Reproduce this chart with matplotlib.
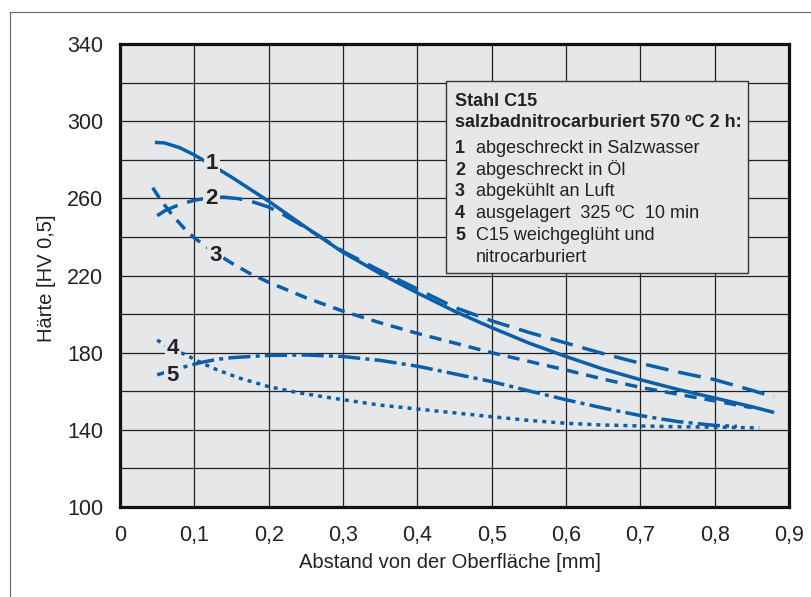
import matplotlib.pyplot as plt
from matplotlib.patches import Rectangle
from matplotlib.lines import Line2D

plt.rcParams['font.family'] = ['Liberation Sans Narrow', 'Liberation Sans', 'DejaVu Sans']

x1 = [0.047, 0.06, 0.08, 0.1, 0.12, 0.15, 0.2, 0.25, 0.3, 0.35, 0.4, 0.45, 0.5, 0.55, 0.6, 0.65, 0.7, 0.75, 0.8, 0.85, 0.88]
hv1 = [289, 288.7, 286.3, 282.5, 278, 271, 258.5, 245, 232, 221, 211, 201.5, 193, 185, 178, 171.5, 166, 161, 156.5, 152, 149]

x2 = [0.05, 0.06, 0.08, 0.1, 0.12, 0.14, 0.16, 0.18, 0.2, 0.22, 0.24, 0.27, 0.3, 0.35, 0.4, 0.45, 0.5, 0.55, 0.6, 0.65, 0.7, 0.75, 0.8, 0.85, 0.88]
hv2 = [251, 253.5, 256.8, 259, 260.3, 260.6, 259.8, 258, 255.5, 251.5, 247, 240, 232.5, 222.5, 213, 203.5, 196.5, 190.5, 185, 179.5, 174.5, 170, 166, 160.5, 157]

x3 = [0.044, 0.055, 0.07, 0.085, 0.1, 0.125, 0.15, 0.175, 0.2, 0.25, 0.3, 0.35, 0.4, 0.45, 0.5, 0.55, 0.6, 0.65, 0.7, 0.75, 0.8, 0.85]
hv3 = [265.5, 259, 251.5, 245, 239.5, 232.5, 226.5, 221, 216.5, 208.5, 201.5, 195.5, 190, 185, 180, 175.5, 171, 166.3, 162, 158.5, 155, 151.5]

x4 = [0.05, 0.07, 0.09, 0.11, 0.13, 0.16, 0.2, 0.24, 0.3, 0.35, 0.4, 0.45, 0.5, 0.55, 0.6, 0.65, 0.7, 0.75, 0.8, 0.86]
hv4 = [186.5, 182, 178.6, 174.6, 171.2, 166.9, 162.4, 159.2, 155.6, 152.8, 150.8, 148.8, 146.8, 144.9, 143.4, 142.5, 142, 141.6, 141.4, 141]

x5 = [0.05, 0.07, 0.09, 0.11, 0.13, 0.15, 0.2, 0.25, 0.3, 0.35, 0.4, 0.45, 0.5, 0.55, 0.6, 0.65, 0.7, 0.75, 0.8, 0.83]
hv5 = [168.5, 170.8, 173, 175, 176.5, 177.4, 178.6, 178.8, 178, 176, 173, 169, 165, 160.2, 155.6, 151.3, 147.4, 144.3, 142.3, 141.8]

curves = [(x1, hv1, '-'),
          (x2, hv2, (0, (6.6, 2.9))),
          (x3, hv3, (0, (3.5, 2.3))),
          (x4, hv4, (0, (1.15, 1.45))),
          (x5, hv5, (0, (6.4, 1.5, 1.15, 1.5)))]

labels = ['1', '2', '3', '4', '5']
label_pos = [(0.124, 278.2), (0.123, 259.8), (0.128, 230.2), (0.071, 182.2), (0.07, 168)]

legend_title = ['Stahl C15', 'salzbadnitrocarburiert 570 ºC 2 h:']
legend_items = ['abgeschreckt in Salzwasser',
                'abgeschreckt in Öl',
                'abgekühlt an Luft',
                'ausgelagert  325 ºC  10 min',
                'C15 weichgeglüht und\nnitrocarburiert']

blue = '#0b5ea8'
bg = '#e6e7e9'
W, H = 812, 597


def fx(px):
    return px / W


def fy(py):
    return 1 - py / H


fig = plt.figure(figsize=(W / 100, H / 100), dpi=100)
ax = fig.add_axes([fx(120), fy(507), (789 - 120) / W, (507 - 44) / H])
ax.set_facecolor(bg)
ax.set_xlim(0, 0.9)
ax.set_ylim(100, 340)

ax.set_xticks([i / 10 for i in range(10)])
ax.set_xticklabels(['0'] + ['0,%d' % i for i in range(1, 10)])
ax.set_yticks(range(100, 341, 40))
ax.set_yticks(range(120, 340, 40), minor=True)
ax.tick_params(which='both', length=0, labelsize=15.5, colors='#222222')
ax.tick_params(axis='x', pad=13)
ax.tick_params(axis='y', pad=12)
ax.grid(True, which='both', color='#222222', linewidth=0.9)
ax.set_axisbelow(True)
for s in ax.spines.values():
    s.set_linewidth(2.3)
    s.set_color('#111111')

for xs, ys, ls in curves:
    ax.plot(xs, ys, color=blue, linewidth=2.5, linestyle=ls,
            solid_capstyle='butt', dash_capstyle='butt', zorder=3)

for lab, (lx, ly) in zip(labels, label_pos):
    ax.text(lx, ly, lab, fontsize=16, fontweight='bold', color='#222222',
            ha='center', va='center', zorder=4,
            bbox=dict(facecolor=bg, edgecolor='none', pad=1.5))

# Legendenkasten
ax.add_patch(Rectangle((fx(446), fy(273)), (748 - 446) / W, (273 - 81) / H,
                       transform=fig.transFigure, facecolor=bg,
                       edgecolor='#333333', linewidth=1.0, zorder=5))
fig.text(fx(455), fy(106), legend_title[0], fontsize=13, fontweight='bold',
         color='#222222', va='baseline', zorder=6)
fig.text(fx(455), fy(127), legend_title[1], fontsize=13, fontweight='bold',
         color='#222222', va='baseline', zorder=6)
for i, item in enumerate(legend_items):
    yb = 153 + i * 21.7
    fig.text(fx(455), fy(yb), labels[i], fontsize=13, fontweight='bold',
             color='#222222', va='baseline', zorder=6)
    fig.text(fx(476), fy(yb), item.split('\n')[0], fontsize=13,
             color='#222222', va='baseline', zorder=6)
    if '\n' in item:
        fig.text(fx(476), fy(yb + 21.7), item.split('\n')[1], fontsize=13,
                 color='#222222', va='baseline', zorder=6)

fig.text(fx(450), fy(563), 'Abstand von der Oberfläche [mm]', fontsize=14.5,
         color='#222222', ha='center', va='center')
fig.text(fx(47), fy(278), 'Härte [HV 0,5]', fontsize=14.5, color='#222222',
         ha='center', va='center', rotation=90)

# Rahmen um die Grafik
fig.add_artist(Line2D([fx(10), fx(10)], [0, fy(12)], color='#666666', linewidth=0.8))
fig.add_artist(Line2D([fx(10), 1], [fy(12), fy(12)], color='#666666', linewidth=0.8))

fig.savefig('out.png', dpi=100)
